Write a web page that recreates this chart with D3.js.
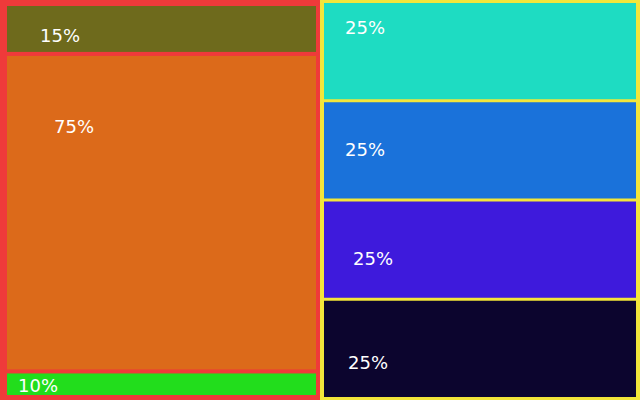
<!DOCTYPE html>
<html>
<head>
<meta charset="utf-8">
<script src="https://cdn.jsdelivr.net/npm/d3@7"></script>
<style>
  html, body { margin: 0; padding: 0; background: #fff; }
  svg { display: block; }
</style>
</head>
<body>
<script>
// ---- data ----
const groupNames = ["Left", "Right"];
const leftLabels = ["15%", "75%", "10%"];
const leftShares = [12.7, 80.8, 6.5];    // share of group area
const rightLabels = ["25%", "25%", "25%", "25%"];
const rightShares = [25, 25, 25, 25];

// ---- styles ----
const W = 640, H = 400;
const groupColors = ["#ef3a3a", "#f3e63a"];
const leftColors = ["#6e6a1c", "#dc6a1a", "#22dd1c"];
const rightColors = ["#1edcc2", "#1a72da", "#3e1adc", "#0c052e"];
// label nudges relative to each cell's top-left corner
const leftNudge = [[33, 36], [47, 77], [11, 18.5]];
const rightNudge = [[21, 31], [21, 54], [29, 63], [24, 68]];

const data = {
  name: "root",
  children: [
    { name: groupNames[0], gi: 0,
      children: leftLabels.map((l, i) => ({ label: l, value: leftShares[i], color: leftColors[i], nudge: leftNudge[i] })) },
    { name: groupNames[1], gi: 1,
      children: rightLabels.map((l, i) => ({ label: l, value: rightShares[i], color: rightColors[i], nudge: rightNudge[i] })) }
  ]
};

const root = d3.hierarchy(data).sum(d => d.value || 0);

d3.treemap()
  .size([W, H])
  .tile(d3.treemapSliceDice)
  .round(false)
  .paddingInner(d => d.depth === 0 ? 0 : (d.data.gi === 0 ? 4 : 3))
  .paddingTop(d => d.depth === 1 ? (d.data.gi === 0 ? 6 : 3) : 0)
  .paddingBottom(d => d.depth === 1 ? (d.data.gi === 0 ? 5 : 3) : 0)
  .paddingLeft(d => d.depth === 1 ? (d.data.gi === 0 ? 7 : 4) : 0)
  .paddingRight(d => d.depth === 1 ? 4 : 0)
  (root);

const svg = d3.select("body").append("svg")
  .attr("width", W).attr("height", H);

svg.selectAll("rect.group")
  .data(root.children)
  .join("rect")
  .attr("class", "group")
  .attr("x", d => d.x0).attr("y", d => d.y0)
  .attr("width", d => d.x1 - d.x0).attr("height", d => d.y1 - d.y0)
  .attr("fill", d => groupColors[d.data.gi]);

const leaves = svg.selectAll("g.leaf")
  .data(root.leaves())
  .join("g")
  .attr("class", "leaf");

leaves.append("rect")
  .attr("x", d => d.x0).attr("y", d => d.y0)
  .attr("width", d => d.x1 - d.x0).attr("height", d => d.y1 - d.y0)
  .attr("fill", d => d.data.color);

leaves.append("text")
  .attr("x", d => d.x0 + d.data.nudge[0])
  .attr("y", d => d.y0 + d.data.nudge[1])
  .attr("fill", "#ffffff")
  .attr("font-family", "DejaVu Sans, sans-serif")
  .attr("font-size", 18)
  .text(d => d.data.label);
</script>
</body>
</html>
